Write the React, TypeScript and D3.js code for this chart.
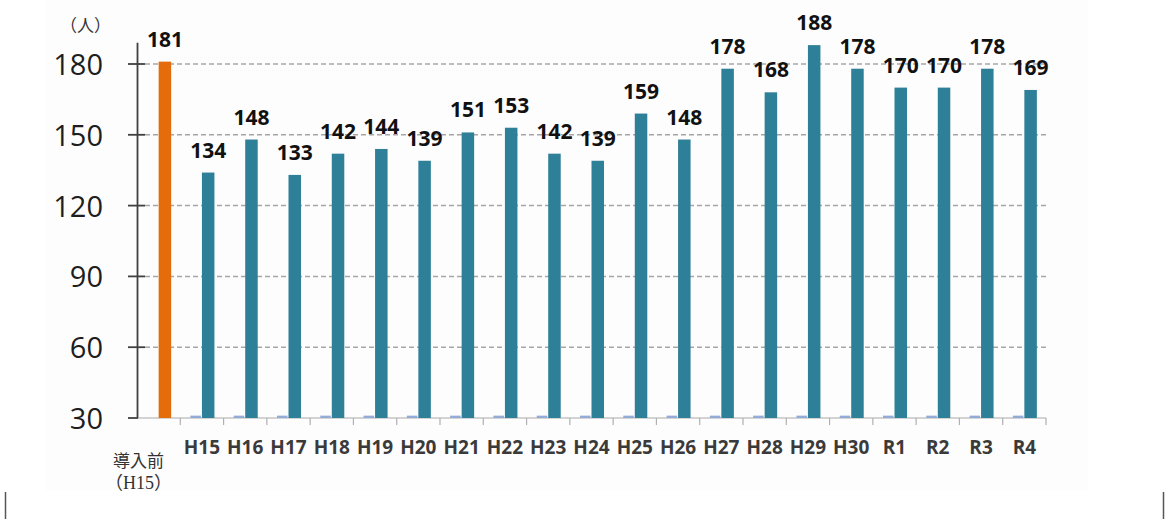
import React from "react";
import { scaleBand, scaleLinear } from "d3";

// data
const categories = ["導入前", "H15", "H16", "H17", "H18", "H19", "H20", "H21", "H22", "H23", "H24", "H25", "H26", "H27", "H28", "H29", "H30", "R1", "R2", "R3", "R4"];
const counts = [181, 134, 148, 133, 142, 144, 139, 151, 153, 142, 139, 159, 148, 178, 168, 188, 178, 170, 170, 178, 169];
// tiny stub series at the baseline (left of each bar)
const baseSeries = [null, 31, 31, 31, 31, 31, 31, 31, 31, 31, 31, 31, 31, 31, 31, 31, 31, 31, 31, 31, 31];
const yTicks = [30, 60, 90, 120, 150, 180];

const W = 1166;
const H = 519;

export default function App() {
  const x = scaleBand<string>().domain(categories).range([137, 1046]).padding(0);
  const bw = x.bandwidth();
  const inner = scaleBand<string>()
    .domain(["base", "count"])
    .range([bw / 2 - 12.5, bw / 2 + 12.5])
    .padding(0);
  const y = scaleLinear().domain([30, 180]).range([418, 64]);
  const y0 = y(30);
  const axisTop = y(189);

  const num = "'Open Sans', 'Noto Sans', sans-serif";
  const serif = "'Liberation Serif', 'Noto Sans CJK JP', serif";

  return (
    <svg width={W} height={H} style={{ position: "absolute", left: 0, top: 0, background: "#fff" }}>
      <rect x={45} y={0} width={1043} height={490} fill="#fdfdfd" />

      {/* gridlines */}
      {yTicks.slice(1).map((t) => (
        <line key={t} x1={145} x2={1046} y1={y(t)} y2={y(t)} stroke="#a6a6a6" strokeWidth={1.5} strokeDasharray="5 3" />
      ))}
      {/* baseline */}
      <line x1={137} x2={1046} y1={y0} y2={y0} stroke="#c4c4c4" strokeWidth={1.5} />
      {/* x ticks at category boundaries */}
      {categories.map((c) => (
        <line key={c} x1={(x(c) as number) + bw} x2={(x(c) as number) + bw} y1={y0} y2={y0 + 7} stroke="#b0b0b0" strokeWidth={1.2} />
      ))}

      {/* y axis */}
      <line x1={137.5} x2={137.5} y1={axisTop} y2={y0} stroke="#404040" strokeWidth={1.8} />
      {yTicks.map((t) => (
        <g key={t}>
          <line x1={128} x2={t === 30 ? 138 : 145} y1={y(t)} y2={y(t)} stroke="#404040" strokeWidth={1.8} />
          <text x={103} y={y(t) + 11} textAnchor="end" fontFamily={num} fontSize={29} fill="#1e1e1e">
            {t}
          </text>
        </g>
      ))}

      {/* stub series */}
      {categories.map((c, i) =>
        baseSeries[i] == null ? null : (
          <rect
            key={"b" + c}
            x={(x(c) as number) + (inner("base") as number) + 1}
            y={y(baseSeries[i] as number)}
            width={inner.bandwidth() - 2}
            height={y0 - y(baseSeries[i] as number)}
            fill="#93abd6"
          />
        )
      )}

      {/* main bars */}
      {categories.map((c, i) => {
        const bx = (x(c) as number) + (inner("count") as number);
        const top = y(counts[i]);
        return (
          <g key={"c" + c}>
            <rect x={bx} y={top} width={inner.bandwidth()} height={y0 - top} fill={i === 0 ? "#e46c0a" : "#2e7f98"} />
            <text x={bx + inner.bandwidth() / 2} y={top - 15} textAnchor="middle" fontFamily={num} fontWeight={700} fontSize={21} fill="#111">
              {counts[i]}
            </text>
          </g>
        );
      })}

      {/* x labels */}
      {categories.slice(1).map((c) => (
        <text key={"l" + c} x={(x(c) as number) + bw / 2} y={454} textAnchor="middle" fontFamily={num} fontWeight={700} fontSize={19} fill="#3a3a3a">
          {c}
        </text>
      ))}
      <text x={113} y={467} fontFamily={serif} fontSize={17} fill="#333">
        {categories[0]}
      </text>
      <text x={105} y={489} fontFamily={serif} fontSize={18} fill="#333">
        （H15）
      </text>

      {/* unit */}
      <text x={60} y={32} fontFamily={serif} fontSize={17} fill="#333">
        （人）
      </text>

      {/* frame edges */}
      <line x1={5.5} x2={5.5} y1={492} y2={519} stroke="#555" strokeWidth={1.5} />
      <line x1={1163.5} x2={1163.5} y1={492} y2={519} stroke="#555" strokeWidth={1.5} />
    </svg>
  );
}
